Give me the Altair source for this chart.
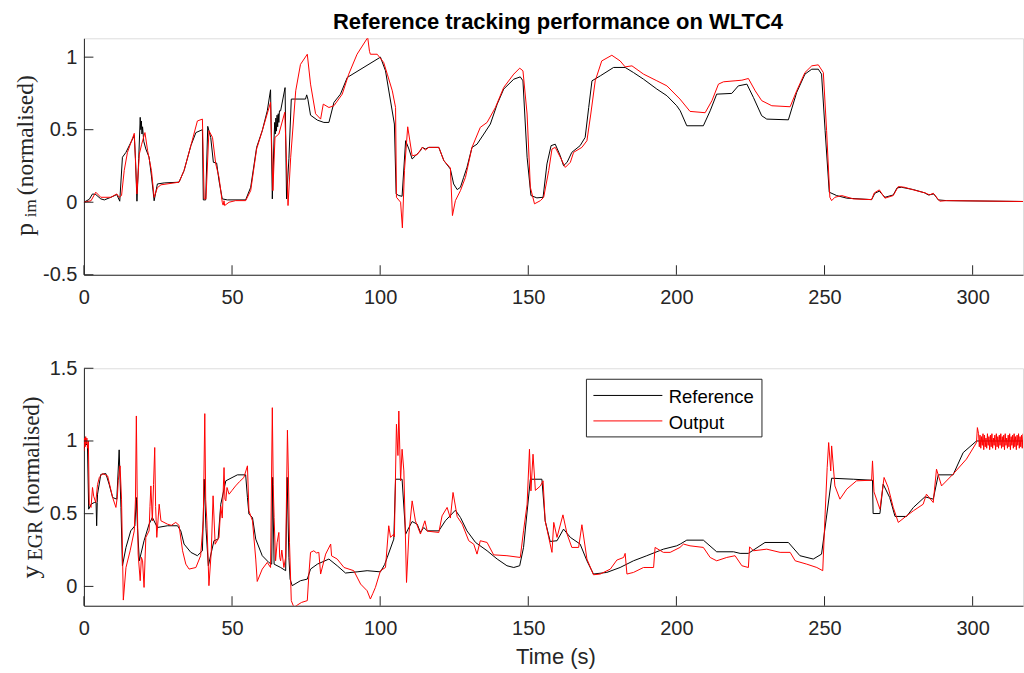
import altair as alt
import pandas as pd

# ---------------- data ----------------
X_MAX = 317.0
X_TICKS = [0, 50, 100, 150, 200, 250, 300]
P_TICKS = [-0.5, 0, 0.5, 1]
Y_TICKS = [0, 0.5, 1, 1.5]
P_DOMAIN = [-0.5, 1.13]
Y_DOMAIN = [-0.133, 1.5]
SERIES = ["Reference", "Output"]
COLORS = ["#000000", "#ff0000"]
TITLE = "Reference tracking performance on WLTC4"
X_TITLE = "Time (s)"
P_LABEL = ["p", "im", "(normalised)"]
Y_LABEL = ["y", "EGR", "(normalised)"]

# top panel: p_im reference
P_REF = [
    (0, 0), (1.8, 0.02), (2.9, 0.057), (4.0, 0.053), (5.7, 0.023), (6.9, 0.016), (9.1, 0.034),
    (11.1, 0.053), (12.1, 0.007), (13.0, 0.31), (14.2, 0.344), (15.3, 0.39), (17.0, 0.46),
    (17.4, 0.30), (17.9, 0.007), (18.5, 0.30), (19.0, 0.585), (19.2, 0.50), (19.4, 0.56),
    (19.6, 0.47), (19.8, 0.52), (20.2, 0.42), (20.9, 0.367), (22.0, 0.31), (22.8, 0.18),
    (23.7, 0.01), (24.8, 0.126), (27.1, 0.133), (32.1, 0.138), (33.8, 0.218), (36.1, 0.39),
    (37.8, 0.48), (40.0, 0.50), (40.3, 0.016), (41.1, 0.016), (41.8, 0.523), (42.8, 0.447),
    (43.7, 0.275), (44.8, 0.27), (45.6, 0.149), (46.7, 0.023), (48.4, 0.016), (54.6, 0.016),
    (56.3, 0.103), (58.3, 0.378), (60.2, 0.493), (61.9, 0.63), (63.0, 0.775), (63.6, 0.023),
    (64.2, 0.45), (64.4, 0.55), (64.6, 0.47), (64.8, 0.58), (65.0, 0.49), (65.2, 0.60),
    (65.4, 0.52), (65.6, 0.61), (65.8, 0.55), (66.0, 0.63), (66.4, 0.63), (67.9, 0.79),
    (68.4, 0.023), (69.2, 0.30), (70.0, 0.711), (74.8, 0.711), (75.2, 0.74), (75.6, 0.71),
    (76.5, 0.60), (78.8, 0.566), (81.0, 0.55), (82.7, 0.55), (84.4, 0.688), (86.6, 0.745),
    (88.9, 0.86), (100.1, 1.0), (101.8, 0.906), (104.8, 0.539), (105.4, 0.057), (106.3, 0.046),
    (107.4, 0.041), (108.6, 0.424), (109.7, 0.367), (110.8, 0.298), (111.9, 0.32),
    (113.6, 0.355), (114.2, 0.378), (115.3, 0.367), (116.4, 0.378), (119.8, 0.378),
    (121.5, 0.287), (123.7, 0.229), (124.8, 0.126), (126.0, 0.087), (127.1, 0.103),
    (128.2, 0.172), (129.3, 0.24), (131.0, 0.378), (132.7, 0.40), (135.0, 0.47),
    (137.2, 0.539), (139.5, 0.676), (141.7, 0.78), (145.1, 0.848), (147.3, 0.864),
    (148.2, 0.837), (149.6, 0.31), (150.9, 0.046), (152.9, 0.03), (155.0, 0.034),
    (156.3, 0.264), (157.7, 0.39), (159.1, 0.40), (160.8, 0.32), (161.9, 0.252),
    (163.1, 0.275), (164.7, 0.344), (167.5, 0.39), (169.2, 0.447), (170.4, 0.653),
    (171.5, 0.837), (174.3, 0.871), (178.8, 0.929), (182.7, 0.929), (185.5, 0.894),
    (188.9, 0.848), (193.4, 0.78), (196.8, 0.734), (200.1, 0.665), (201.3, 0.63),
    (203.5, 0.527), (209.1, 0.527), (211.4, 0.63), (213.6, 0.745), (218.7, 0.75),
    (220.9, 0.802), (223.8, 0.814), (226.0, 0.722), (228.8, 0.596), (230.5, 0.573),
    (237.8, 0.568), (240.6, 0.757), (243.4, 0.883), (245.7, 0.917), (247.9, 0.917),
    (249.0, 0.883), (250.2, 0.493), (251.6, 0.069), (254.1, 0.046), (257.5, 0.028),
    (265.9, 0.018), (267.0, 0.062), (268.5, 0.076), (270.4, 0.034), (273.2, 0.05),
    (274.5, 0.099), (276.0, 0.103), (280.0, 0.087), (283.9, 0.064), (285.0, 0.05),
    (286.9, 0.057), (288.4, 0.016), (291.2, 0.011), (317.0, 0.005),
]

# top panel: p_im output
P_OUT = [
    (0, 0), (2.4, 0.01), (4.0, 0.069), (5.7, 0.034), (9.1, 0.034), (11.1, 0.057), (11.9, 0.034),
    (12.7, 0.046), (13.6, 0.218), (14.7, 0.344), (17.0, 0.475), (17.9, 0.057), (18.7, 0.332),
    (19.5, 0.40), (20.6, 0.48), (21.5, 0.355), (22.8, 0.218), (23.7, 0.034), (24.8, 0.10),
    (26.0, 0.12), (32.1, 0.138), (33.8, 0.218), (36.1, 0.39), (38.3, 0.56), (40.0, 0.573),
    (40.6, 0.023), (41.2, 0.023), (42.2, 0.493), (43.4, 0.447), (44.5, 0.264), (45.6, 0.172),
    (46.7, 0.0), (47.0, -0.02), (47.3, 0.01), (47.5, -0.023), (49.0, 0.0), (51.2, 0.011),
    (54.6, 0.011), (56.3, 0.08), (58.3, 0.367), (60.2, 0.493), (63.0, 0.688), (63.8, 0.08),
    (64.5, 0.447), (65.8, 0.47), (67.8, 0.62), (68.9, -0.023), (69.8, 0.31), (71.5, 0.768),
    (73.1, 0.95), (75.4, 1.02), (76.5, 0.814), (78.2, 0.61), (79.9, 0.573), (80.8, 0.676),
    (82.7, 0.653), (84.4, 0.665), (87.2, 0.745), (89.4, 0.883), (92.2, 1.02), (95.8, 1.135),
    (96.4, 1.04), (96.7, 1.02), (99.0, 1.02), (101.2, 0.963), (102.4, 0.883), (104.1, 0.768),
    (105.2, 0.653), (105.5, 0.034), (106.9, 0.0), (107.5, -0.177), (108.2, 0.218),
    (109.3, 0.52), (110.8, 0.32), (112.5, 0.328), (114.2, 0.378), (115.3, 0.36),
    (116.4, 0.378), (119.8, 0.378), (121.5, 0.287), (123.7, 0.236), (124.4, -0.092),
    (125.4, 0.011), (127.1, 0.08), (128.8, 0.172), (131.0, 0.378), (133.8, 0.516),
    (136.1, 0.55), (138.9, 0.653), (141.7, 0.791), (145.1, 0.883), (147.1, 0.924),
    (148.2, 0.906), (149.6, 0.608), (150.7, 0.103), (152.1, -0.011), (154.1, 0.011),
    (155.2, 0.034), (156.9, 0.218), (158.0, 0.367), (159.1, 0.378), (160.8, 0.31),
    (162.5, 0.24), (164.2, 0.275), (165.3, 0.344), (168.1, 0.378), (169.8, 0.424),
    (171.1, 0.608), (172.6, 0.837), (174.8, 0.974), (178.2, 1.013), (181.0, 0.974),
    (182.7, 0.933), (185.0, 0.94), (188.9, 0.883), (193.4, 0.837), (196.8, 0.802),
    (201.2, 0.711), (204.6, 0.626), (209.7, 0.617), (212.0, 0.70), (214.2, 0.814),
    (215.9, 0.83), (219.8, 0.837), (222.1, 0.841), (224.3, 0.853), (226.6, 0.768),
    (228.8, 0.70), (232.2, 0.665), (238.4, 0.658), (240.6, 0.768), (243.4, 0.894),
    (245.7, 0.94), (247.9, 0.947), (249.6, 0.894), (250.7, 0.493), (251.8, 0.034),
    (252.4, 0.011), (253.5, 0.034), (255.8, 0.046), (259.7, 0.023), (265.9, 0.018),
    (266.8, 0.064), (268.5, 0.085), (270.4, 0.028), (273.2, 0.046), (274.9, 0.108),
    (277.0, 0.103), (280.0, 0.085), (284.0, 0.064), (285.5, 0.05), (286.7, 0.062),
    (288.9, 0.007), (291.2, 0.011), (317.0, 0.005),
]

# bottom panel: y_EGR reference
Y_REF = [
    (0, 0.95), (0.6, 0.98), (1.2, 0.97), (1.6, 0.531), (2.4, 0.565), (3.5, 0.577), (4.1, 0.577),
    (4.3, 0.417), (4.5, 0.577), (4.6, 0.634), (5.7, 0.77), (7.4, 0.776), (8.5, 0.703),
    (9.7, 0.611), (11.1, 0.60), (11.9, 0.939), (12.5, 0.543), (13.0, 0.142), (14.2, 0.268),
    (15.8, 0.382), (17.2, 0.417), (17.7, 0.611), (18.1, 0.40), (18.7, 0.176), (20.3, 0.314),
    (22.0, 0.428), (23.1, 0.474), (24.8, 0.405), (28.2, 0.417), (31.6, 0.417), (32.7, 0.382),
    (33.8, 0.291), (36.1, 0.234), (38.3, 0.211), (40.0, 0.245), (40.6, 0.737), (41.2, 0.40),
    (42.0, 0.142), (43.9, 0.314), (45.3, 0.325), (46.2, 0.565), (47.9, 0.726), (51.8, 0.767),
    (54.6, 0.767), (55.2, 0.611), (55.7, 0.497), (56.9, 0.474), (58.0, 0.325), (60.2, 0.211),
    (62.4, 0.165), (63.4, 0.153), (63.7, 0.75), (64.2, 0.153), (66.4, 0.13), (68.1, 0.108),
    (68.6, 0.75), (69.2, 0.20), (69.6, 0.05), (70.3, 0.005), (73.1, 0.039), (75.4, 0.05),
    (76.5, 0.119), (78.8, 0.153), (82.7, 0.188), (85.5, 0.142), (88.3, 0.092), (92.2, 0.10),
    (95.6, 0.108), (100.1, 0.10), (101.5, 0.15), (102.4, 0.20), (104.6, 0.325),
    (105.2, 0.737), (107.4, 0.737), (108.6, 0.359), (109.7, 0.405), (110.8, 0.446),
    (112.5, 0.428), (113.6, 0.371), (114.7, 0.405), (115.9, 0.382), (119.8, 0.382),
    (122.0, 0.451), (125.4, 0.524), (127.1, 0.474), (129.3, 0.382), (132.2, 0.302),
    (136.1, 0.245), (139.5, 0.188), (142.8, 0.142), (145.1, 0.13), (147.1, 0.142),
    (148.4, 0.268), (150.7, 0.737), (154.6, 0.737), (155.7, 0.451), (157.4, 0.309),
    (159.7, 0.314), (161.9, 0.394), (164.2, 0.337), (167.5, 0.291), (169.8, 0.176),
    (172.0, 0.085), (176.5, 0.096), (181.0, 0.13), (185.5, 0.176), (190.0, 0.211),
    (195.6, 0.256), (200.1, 0.279), (201.3, 0.291), (203.5, 0.318), (209.1, 0.318),
    (213.6, 0.238), (219.3, 0.238), (221.5, 0.227), (224.3, 0.227), (229.9, 0.302),
    (237.8, 0.302), (241.7, 0.211), (246.2, 0.188), (249.0, 0.222), (252.4, 0.744),
    (259.7, 0.737), (266.2, 0.73), (266.4, 0.501), (268.7, 0.501), (269.8, 0.703),
    (272.0, 0.611), (273.8, 0.481), (277.7, 0.481), (280.0, 0.543), (283.9, 0.616),
    (286.7, 0.60), (288.4, 0.767), (293.4, 0.767), (296.8, 0.92), (301.3, 1.0), (317.0, 1.0),
]

# bottom panel: y_EGR output
Y_OUT = [
    (0, 0.93), (0.2, 1.02), (0.4, 0.96), (0.6, 1.03), (0.8, 0.98), (1.0, 1.02), (1.2, 0.95),
    (1.5, 1.0), (1.8, 0.565), (2.4, 0.543), (2.9, 0.68), (3.3, 0.62), (4.0, 0.577), (4.6, 0.70),
    (5.2, 0.749), (6.3, 0.776), (8.0, 0.76), (9.7, 0.611), (10.8, 0.543), (11.3, 0.62),
    (11.6, 0.73), (12.2, 0.829), (12.7, 0.60), (13.3, -0.094), (14.2, 0.13), (15.6, 0.245),
    (17.0, 0.382), (17.4, 0.60), (17.7, 1.172), (18.0, 0.60), (18.3, 0.222), (19.0, 0.039),
    (19.4, 0.20), (19.8, 0.176), (20.3, -0.007), (20.9, 0.337), (22.0, 0.382), (22.3, 0.55),
    (22.6, 0.691), (23.1, 0.45), (23.5, 0.70), (23.9, 0.955), (24.2, 0.55), (24.6, 0.337),
    (25.0, 0.45), (25.4, 0.565), (26.0, 0.451), (28.2, 0.428), (29.5, 0.42), (31.0, 0.44),
    (32.1, 0.42), (33.3, 0.245), (34.4, 0.153), (35.5, 0.119), (37.8, 0.13), (39.4, 0.211),
    (40.3, 0.451), (40.8, 1.188), (41.1, 0.60), (41.5, 0.451), (42.2, 0.005), (43.0, 0.245),
    (43.6, 0.623), (44.3, 0.29), (45.6, 0.337), (46.2, 0.55), (46.7, 0.47), (47.3, 0.817),
    (47.6, 0.60), (47.9, 0.588), (48.3, 0.68), (49.0, 0.634), (50.0, 0.66), (51.2, 0.691),
    (52.5, 0.72), (54.0, 0.749), (55.2, 0.829), (55.7, 0.52), (56.9, 0.451), (58.0, 0.188),
    (58.5, 0.034), (60.2, 0.119), (61.9, 0.165), (63.0, 0.13), (63.6, 1.229), (63.9, 0.70),
    (64.2, 0.474), (64.7, 0.176), (65.2, 0.30), (65.8, 0.371), (66.1, 0.20), (66.4, 0.176),
    (66.8, 0.25), (67.5, 0.13), (68.1, 0.20), (68.7, 1.074), (69.0, 0.80), (69.4, 0.30),
    (70.0, -0.098), (70.9, -0.144), (72.6, -0.121), (73.5, -0.11), (75.4, -0.098), (76.0, 0.10),
    (76.5, 0.234), (77.6, 0.245), (78.5, 0.23), (79.3, 0.234), (79.9, 0.085), (81.6, 0.222),
    (83.3, 0.291), (83.6, 0.21), (85.5, 0.188), (87.8, 0.13), (91.1, 0.108), (93.4, 0.016),
    (95.6, -0.03), (96.7, -0.087), (97.5, -0.05), (98.4, -0.007), (100.1, 0.108),
    (101.8, 0.13), (102.9, 0.417), (103.5, 0.337), (104.6, 0.36), (104.8, 0.34),
    (105.5, 1.115), (106.0, 0.90), (106.3, 1.206), (106.9, 0.726), (107.4, 0.943),
    (108.0, 0.794), (108.9, 0.027), (109.7, 0.36), (110.8, 0.588), (111.9, 0.451),
    (113.6, 0.36), (115.1, 0.451), (115.9, 0.38), (119.8, 0.371), (120.9, 0.485),
    (122.6, 0.543), (123.7, 0.47), (124.6, 0.646), (126.0, 0.48), (127.7, 0.428),
    (129.9, 0.314), (131.6, 0.29), (132.7, 0.222), (133.8, 0.314), (136.1, 0.302),
    (138.3, 0.217), (142.8, 0.211), (147.3, 0.199), (148.4, 0.382), (149.6, 0.565),
    (150.4, 0.943), (150.9, 0.657), (151.6, 0.909), (152.4, 0.66), (154.1, 0.691),
    (155.0, 0.726), (155.7, 0.451), (156.9, 0.337), (158.0, 0.234), (158.6, 0.44),
    (159.7, 0.337), (161.7, 0.492), (163.1, 0.36), (164.7, 0.268), (167.0, 0.268),
    (168.1, 0.424), (169.8, 0.188), (172.0, 0.08), (174.3, 0.085), (177.7, 0.119),
    (179.9, 0.181), (182.2, 0.199), (182.7, 0.227), (183.3, 0.085), (185.5, 0.096),
    (188.9, 0.13), (192.3, 0.13), (192.8, 0.268), (195.6, 0.234), (197.9, 0.234),
    (201.2, 0.268), (202.4, 0.291), (204.6, 0.279), (209.1, 0.268), (211.4, 0.199),
    (213.6, 0.176), (217.0, 0.199), (219.8, 0.211), (222.1, 0.142), (224.3, 0.13),
    (224.7, 0.272), (226.0, 0.245), (230.5, 0.256), (235.0, 0.234), (238.4, 0.234),
    (240.1, 0.176), (244.0, 0.153), (247.4, 0.13), (249.4, 0.108), (250.2, 0.497),
    (250.9, 0.817), (251.4, 0.989), (252.1, 0.794), (252.4, 0.966), (253.5, 0.691),
    (255.2, 0.60), (257.5, 0.669), (260.8, 0.726), (265.9, 0.73), (266.2, 0.863),
    (266.7, 0.65), (268.7, 0.531), (270.1, 0.749), (271.5, 0.68), (273.2, 0.543),
    (274.9, 0.44), (277.7, 0.485), (280.0, 0.52), (283.3, 0.565), (284.4, 0.634),
    (286.7, 0.577), (287.8, 0.806), (289.5, 0.691), (293.4, 0.772), (297.9, 0.875),
    (301.3, 0.989), (301.6, 1.092),
    (302.0, 1.05), (302.25, 0.96), (302.5, 1.04), (302.75, 0.95), (303.0, 1.03), (303.25, 0.97),
    (303.5, 1.05), (303.75, 0.94), (304.0, 1.04), (304.25, 0.96), (304.5, 1.02), (304.75, 0.95),
    (305.0, 1.05), (305.25, 0.97), (305.5, 1.03), (305.75, 0.94), (306.0, 1.04), (306.25, 0.96),
    (306.5, 1.05), (306.75, 0.95), (307.0, 1.02), (307.25, 0.97), (307.5, 1.04), (307.75, 0.94),
    (308.0, 1.05), (308.25, 0.96), (308.5, 1.03), (308.75, 0.95), (309.0, 1.04), (309.25, 0.97),
    (309.5, 1.05), (309.75, 0.95), (310.0, 1.03), (310.25, 0.96), (310.5, 1.04), (310.75, 0.94),
    (311.0, 1.05), (311.25, 0.97), (311.5, 1.02), (311.75, 0.95), (312.0, 1.04), (312.25, 0.96),
    (312.5, 1.05), (312.75, 0.94), (313.0, 1.03), (313.25, 0.97), (313.5, 1.04), (313.75, 0.95),
    (314.0, 1.05), (314.25, 0.96), (314.5, 1.03), (314.75, 0.94), (315.0, 1.04), (315.25, 0.97),
    (315.5, 1.05), (315.75, 0.95), (316.0, 1.03), (316.25, 0.96), (316.5, 1.04), (316.75, 0.95),
    (317.0, 1.05),
]

# ---------------- layout & style ----------------
W = 940
H1 = 236.7
H2 = 237.7
GAP = 93.3
TICK_LEN = 9.5
AX_COLOR = "#262626"
SANS = "Liberation Sans"
SERIF = "Liberation Serif"


def frame(rows, name):
    return pd.DataFrame(rows, columns=["t", "v"]).assign(series=name)


def y_axis(ticks):
    return alt.Axis(values=ticks, ticks=False, tickSize=0, grid=False, domainColor=AX_COLOR,
                    domainWidth=1, labelColor=AX_COLOR, labelFont=SANS, labelFontSize=20,
                    labelPadding=7, labelFlush=False, labelOverlap=False, title=None,
                    labelExpr="datum.value < 0 ? '-' + format(-datum.value, '~g') : format(datum.value, '~g')")


def x_axis(title):
    kw = dict(values=X_TICKS, ticks=False, tickSize=0, grid=False, domainColor=AX_COLOR,
              domainWidth=1, labelColor=AX_COLOR, labelFont=SANS, labelFontSize=20,
              labelPadding=13, labelFlush=False, labelOverlap=False, format="d")
    if title:
        kw.update(title=title, titleFont=SANS, titleFontSize=22, titleFontWeight="normal",
                  titleColor=AX_COLOR, titleX=472, titleY=58, titleBaseline="alphabetic",
                  titleAlign="center")
    else:
        kw.update(title=None)
    return alt.Axis(**kw)


COLOR = alt.Color("series:N", scale=alt.Scale(domain=SERIES, range=COLORS), legend=None)


def label_layers(words, base_x, pos, sizes, shifts):
    layers = []
    for word, yy, size, dx in zip(words, pos, sizes, shifts):
        layers.append(
            alt.Chart(pd.DataFrame({"label": [word]})).mark_text(
                angle=270, font=SERIF, fontSize=size, align="center", baseline="alphabetic",
                color=AX_COLOR
            ).encode(x=alt.value(base_x + dx), y=alt.value(yy), text="label:N")
        )
    return layers


def panel(ref_rows, out_rows, domain, ticks, H, x_title, labels, extra):
    X = alt.X("t:Q", scale=alt.Scale(domain=[0, X_MAX], nice=False, zero=False), axis=x_axis(x_title))
    Y = alt.Y("v:Q", scale=alt.Scale(domain=domain, nice=False, zero=False), axis=y_axis(ticks))
    ref_line = alt.Chart(frame(ref_rows, SERIES[0])).mark_line(clip=True, strokeWidth=1).encode(
        x=X, y=Y, color=COLOR)
    out_line = alt.Chart(frame(out_rows, SERIES[1])).mark_line(clip=True, strokeWidth=1).encode(
        x=X, y=Y, color=COLOR)
    # inward-pointing tick marks (MATLAB style)
    xt = alt.Chart(pd.DataFrame({"t": X_TICKS})).mark_rule(color=AX_COLOR, strokeWidth=1).encode(
        x=X, y=alt.value(H), y2=alt.value(H - TICK_LEN))
    yt = alt.Chart(pd.DataFrame({"v": ticks})).mark_tick(
        orient="horizontal", size=TICK_LEN, thickness=1, color=AX_COLOR, opacity=1
    ).encode(y=Y, x=alt.value(TICK_LEN / 2))
    anchor = alt.Chart(pd.DataFrame({"a": [0]})).mark_rect(opacity=0).encode(
        x=alt.value(-83), x2=alt.value(-82), y=alt.value(-37.3 if x_title is None else 0),
        y2=alt.value(-36.3 if x_title is None else 1))
    return alt.layer(ref_line, out_line, xt, yt, anchor, *labels, *extra).properties(width=W, height=H)


# title (top panel)
title_layer = alt.Chart(pd.DataFrame({"label": [TITLE]})).mark_text(
    font=SANS, fontSize=22, fontWeight="bold", align="center", baseline="alphabetic", color="#000000"
).encode(x=alt.value(474.5), y=alt.value(-9.2), text="label:N")

# legend (bottom panel)
legend_box = alt.Chart(pd.DataFrame({"a": [0]})).mark_rect(
    fill="white", stroke=AX_COLOR, strokeWidth=1
).encode(x=alt.value(503), x2=alt.value(678.7), y=alt.value(11), y2=alt.value(68.7))
legend_ref = alt.Chart(pd.DataFrame({"a": [0]})).mark_rule(color=COLORS[0], strokeWidth=1).encode(
    x=alt.value(510), x2=alt.value(579), y=alt.value(27.2))
legend_out = alt.Chart(pd.DataFrame({"a": [0]})).mark_rule(color=COLORS[1], strokeWidth=1).encode(
    x=alt.value(510), x2=alt.value(579), y=alt.value(52.7))
legend_txt_ref = alt.Chart(pd.DataFrame({"label": [SERIES[0]]})).mark_text(
    font=SANS, fontSize=18.5, align="left", baseline="alphabetic", color="#000000"
).encode(x=alt.value(585.3), y=alt.value(35), text="label:N")
legend_txt_out = alt.Chart(pd.DataFrame({"label": [SERIES[1]]})).mark_text(
    font=SANS, fontSize=18.5, align="left", baseline="alphabetic", color="#000000"
).encode(x=alt.value(585.3), y=alt.value(60.5), text="label:N")

p_labels = label_layers([P_LABEL[0], P_LABEL[1], P_LABEL[2]], -51.3,
                        [191.5, 170.2, 97.0], [26, 17, 23.5], [0, 3.5, 0])
y_labels = label_layers([Y_LABEL[0], Y_LABEL[1], Y_LABEL[2]], -44.7,
                        [204.0, 172.5, 87.0], [26, 20, 23], [0, 3.0, 0])

top = panel(P_REF, P_OUT, P_DOMAIN, P_TICKS, H1, None, p_labels, [title_layer])
bottom = panel(Y_REF, Y_OUT, Y_DOMAIN, Y_TICKS, H2, X_TITLE, y_labels,
               [legend_box, legend_ref, legend_out, legend_txt_ref, legend_txt_out])

chart = alt.vconcat(top, bottom, spacing=GAP, bounds="flush").properties(
    padding={"left": 0, "top": 0, "right": 0, "bottom": 0}
).configure_view(stroke=None).configure(background="white")

chart.save("out.html", embed_options={"renderer": "svg", "actions": False})
